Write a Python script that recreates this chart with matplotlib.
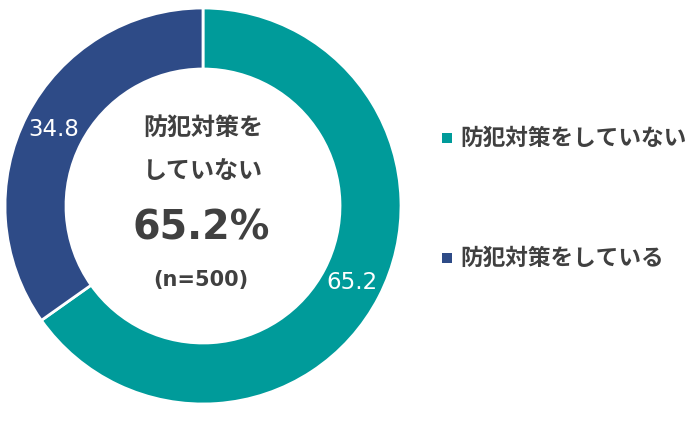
import matplotlib
matplotlib.use("Agg")
import matplotlib.pyplot as plt

categories = ["防犯対策をしていない", "防犯対策をしている"]
values = [65.2, 34.8]
colors = ["#009B9A", "#2E4B87"]
center_lines = ["防犯対策を", "していない"]
center_pct = "65.2%"
center_n = "(n=500)"

plt.rcParams['font.family'] = ['Noto Sans CJK JP', 'DejaVu Sans']

W, H = 700, 424
fig = plt.figure(figsize=(W / 100, H / 100), dpi=100)
cx, cy = 203, 206
half = 200
ax = fig.add_axes([(cx - half) / W, (H - cy - half) / H, 2 * half / W, 2 * half / H])

R = 198
width = 61
wedges, texts, autotexts = ax.pie(
    values, colors=colors, startangle=90, counterclock=False, radius=R,
    wedgeprops=dict(width=width, edgecolor='white', linewidth=2),
    autopct=lambda p: f"{p:.1f}", pctdistance=(R - width / 2) / R,
    textprops=dict(color='white', fontsize=16.5, family=['DejaVu Sans']))
ax.set_xlim(-half, half)
ax.set_ylim(-half, half)
ax.set_aspect('equal')
ax.axis('off')

dark = "#404040"
ax.text(0, 206 - 128, center_lines[0], ha='center', va='center', fontsize=17.3, fontweight='bold', color=dark)
ax.text(0, 206 - 171, center_lines[1], ha='center', va='center', fontsize=17.3, fontweight='bold', color=dark)
ax.text(-2, 206 - 229, center_pct, ha='center', va='center', fontsize=28.5, fontweight='bold', color=dark,
        family=['DejaVu Sans'])
ax.text(-2, 206 - 280, center_n, ha='center', va='center', fontsize=15, fontweight='bold', color=dark,
        family=['DejaVu Sans'])

leg_y = [138, 258]
for cat, col, y in zip(categories, colors, leg_y):
    fig.patches.append(plt.Rectangle(((442) / W, (H - y - 5) / H), 10 / W, 10 / H,
                                     transform=fig.transFigure, facecolor=col, edgecolor='none'))
    fig.text(460 / W, (H - y) / H, cat, ha='left', va='center', fontsize=16.3, fontweight='bold', color=dark)

fig.savefig("out.png", dpi=100, facecolor='white')
